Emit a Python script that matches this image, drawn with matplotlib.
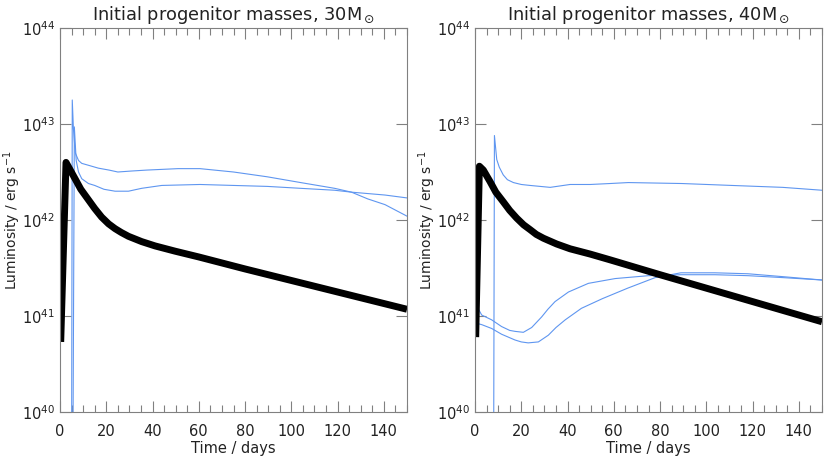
import numpy as np
import matplotlib
matplotlib.use('Agg')
import matplotlib.pyplot as plt
from matplotlib.ticker import MultipleLocator, FixedLocator

# values (time in days, log10 luminosity in erg/s)
# values below the axis (log L < 40) are stored as 38
titles = ['Initial progenitor masses, 30M$_\\odot$', 'Initial progenitor masses, 40M$_\\odot$']

# 30 Msun panel
t_black_30 = [0.3, 2.6, 6.5, 9, 12.3, 15, 18, 21, 23.8, 26.5, 29.6, 35.3, 41.1, 49.8, 60, 80, 100, 120, 150]
l_black_30 = [40.73, 42.60, 42.43, 42.32, 42.21, 42.12, 42.03, 41.96, 41.91, 41.87, 41.83, 41.775, 41.73,
              41.675, 41.615, 41.49, 41.37, 41.25, 41.07]

t_blue_30a = [0, 4.9, 5.3, 5.8, 6.6, 8, 9.4, 12.3, 16.6, 21.2, 25, 30.8, 37.5, 51, 60.5, 75, 89.6, 104,
              118.7, 126, 133, 140.5, 150]
l_blue_30a = [38, 38, 43.25, 42.95, 42.70, 42.62, 42.59, 42.57, 42.54, 42.52, 42.50, 42.51, 42.52, 42.535,
              42.535, 42.50, 42.45, 42.39, 42.33, 42.29, 42.22, 42.16, 42.04]

t_blue_30b = [0, 5.3, 6.2, 7, 8, 9.4, 12.3, 15, 19, 23.8, 29.6, 35.3, 44, 60.5, 75, 89.6, 104, 118.7,
              126, 140.5, 150]
l_blue_30b = [38, 38, 42.97, 42.62, 42.50, 42.43, 42.38, 42.36, 42.32, 42.30, 42.30, 42.33, 42.36, 42.37,
              42.36, 42.35, 42.33, 42.31, 42.29, 42.26, 42.23]

# 40 Msun panel
t_black_40 = [0.3, 1.9, 3.6, 6.5, 9, 12.2, 15, 18, 21, 23.8, 26.5, 29.6, 35.3, 41.1, 49.8, 58.4, 80, 100,
              120, 150]
l_black_40 = [40.78, 42.56, 42.52, 42.40, 42.29, 42.19, 42.10, 42.02, 41.95, 41.90, 41.85, 41.81, 41.75,
              41.70, 41.645, 41.585, 41.43, 41.29, 41.15, 40.94]

t_blue_40a = [0, 7.9, 8.4, 9.4, 10.5, 12.2, 14, 16.6, 20, 23.8, 32.5, 41.1, 49.8, 58.4, 66.3, 89.4, 111,
              133, 150]
l_blue_40a = [38, 38, 42.88, 42.63, 42.55, 42.47, 42.42, 42.39, 42.37, 42.36, 42.34, 42.37, 42.37, 42.38,
              42.39, 42.38, 42.36, 42.34, 42.31]

t_blue_40b = [1.3, 2.9, 7.2, 11.5, 15, 17.3, 20.9, 24.5, 28.8, 31.5, 34.6, 40.4, 49, 60.6, 75, 89, 103.7,
              118, 133, 150]
l_blue_40b = [41.08, 41.01, 40.96, 40.89, 40.85, 40.84, 40.83, 40.88, 40.99, 41.07, 41.15, 41.25, 41.34,
              41.39, 41.42, 41.43, 41.43, 41.42, 41.40, 41.375]

t_blue_40c = [1.3, 2.9, 7.2, 11.5, 17.3, 20, 23, 27.4, 31.7, 35, 39, 46, 55, 66, 77.9, 89, 103.7, 118,
              133, 150]
l_blue_40c = [40.92, 40.91, 40.87, 40.81, 40.75, 40.73, 40.72, 40.73, 40.80, 40.88, 40.96, 41.08, 41.18,
              41.29, 41.40, 41.45, 41.45, 41.44, 41.41, 41.375]

panels = [
    (t_black_30, l_black_30, [(t_blue_30a, l_blue_30a), (t_blue_30b, l_blue_30b)]),
    (t_black_40, l_black_40, [(t_blue_40a, l_blue_40a), (t_blue_40b, l_blue_40b), (t_blue_40c, l_blue_40c)]),
]

plt.rcParams['font.family'] = ['DejaVu Sans']
txt = '#222222'
spine = '#808080'
blue = '#5f96f0'

fig = plt.figure(figsize=(8.3, 4.67), dpi=100)
lefts = [60 / 830, 475 / 830]
w = 347 / 830
b = 1 - 412 / 467
h = (412 - 28) / 467

for i, (tb, lb, blues) in enumerate(panels):
    ax = fig.add_axes([lefts[i], b, w, h])
    for tt, ll in blues:
        ax.plot(tt, 10 ** np.array(ll), color=blue, lw=0.8)
    ax.plot(tb, 10 ** np.array(lb), color='black', lw=5, solid_capstyle='butt', solid_joinstyle='round')
    ax.set_yscale('log')
    ax.set_xlim(0, 150)
    ax.set_ylim(1e40, 1e44)
    ax.xaxis.set_major_locator(MultipleLocator(20))
    ax.xaxis.set_minor_locator(MultipleLocator(5))
    ax.yaxis.set_major_locator(FixedLocator([1e40, 1e41, 1e42, 1e43, 1e44]))
    ax.yaxis.set_minor_locator(FixedLocator([]))
    ax.set_yticklabels(['$10^{40}$', '$10^{41}$', '$10^{42}$', '$10^{43}$', '$10^{44}$'])
    ax.tick_params(which='both', direction='in', top=True, right=True, colors=spine,
                   labelcolor=txt, labelsize=10.5)
    ax.tick_params(which='major', length=8, width=0.8)
    ax.tick_params(which='minor', length=5, width=0.8)
    ax.tick_params(axis='x', which='major', pad=9)
    for s in ax.spines.values():
        s.set_color(spine)
        s.set_linewidth(0.8)
    ax.set_title(titles[i], fontsize=12.8, color=txt, pad=6)
    ax.set_xlabel('Time / days', fontsize=10.5, color=txt)
    ax.set_ylabel('Luminosity / erg s$^{-1}$', fontsize=10, color=txt)
    ax.xaxis.set_label_coords(0.5, -0.075)
    ax.yaxis.set_label_coords(-0.108, 0.5)

fig.savefig('out.png', dpi=100)
